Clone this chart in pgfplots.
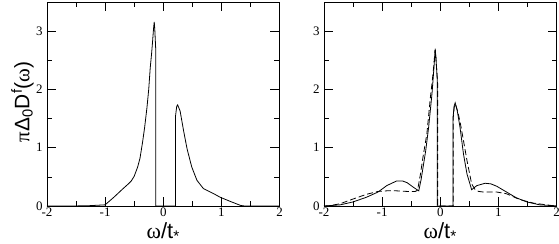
\documentclass[border=0pt]{standalone}
\usepackage{fontspec}
\setmainfont{Liberation Serif}
\newfontfamily\lsans{Liberation Sans}
\usepackage{pgfplots}
\pgfplotsset{compat=1.18}
\begin{document}
\begin{tikzpicture}
\pgfplotsset{
  every axis/.append style={
    scale only axis,
    width=232.5bp, height=204bp,
    xmin=-2, xmax=2, ymin=0, ymax=3.5,
    xtick={-2,-1,0,1,2},
    xticklabels={\mbox{-2},\mbox{-1},\mbox{0},\mbox{1},\mbox{2}},
    ytick={0,1,2,3},
    yticklabels={\mbox{0},\mbox{1},\mbox{2},\mbox{3}},
    minor xtick={-1.5,-0.5,0.5,1.5},
    minor ytick={0.5,1.5,2.5},
    tick align=inside,
    major tick length=9bp,
    minor tick length=5bp,
    every tick/.style={black, line width=0.6pt},
    axis line style={black, line width=0.8pt},
    tick label style={font=\fontsize{13}{15}\selectfont},
    yticklabel style={xshift=-1bp},
    xticklabel style={anchor=base, yshift=-10.5bp},
    xlabel style={at={(axis description cs:0.5,-0.157)}, anchor=base},
    xlabel={\fontsize{22}{24}\selectfont ω{\lsans /t\textsubscript{*}}},
    clip=false,
  }
}
\begin{axis}[
  at={(0,0)}, anchor=south west,
  ylabel style={at={(axis description cs:-0.0754,0.51)}, anchor=base},
  ylabel={\fontsize{21}{24}\selectfont π{\lsans Δ\textsubscript{0}D\textsuperscript{f}(}ω{\lsans )}},
]
\addplot[black, line width=0.8pt] coordinates {
(-2,0) (-1.6,0) (-1.3,0.004) (-1.0,0.02) (-0.85,0.15) (-0.7,0.29) (-0.6,0.38)
(-0.55,0.43) (-0.5,0.51) (-0.44,0.67) (-0.4,0.82) (-0.355,1.1) (-0.32,1.35)
(-0.28,1.69) (-0.25,2.0) (-0.224,2.37) (-0.2,2.62) (-0.183,2.83) (-0.168,3.03)
(-0.155,3.16) (-0.145,3.02) (-0.13,2.7) (-0.13,0)
(0.212,0) (0.212,1.55) (0.232,1.71) (0.248,1.735) (0.29,1.63) (0.35,1.29)
(0.41,0.98) (0.49,0.67) (0.58,0.44) (0.69,0.30) (0.87,0.21) (0.98,0.15)
(1.15,0.08) (1.33,0.01) (1.4,0) (2,0)
};
\end{axis}
\begin{axis}[
  at={(277bp,0)}, anchor=south west,
]
\addplot[black, line width=0.8pt] coordinates {
(-2,0) (-1.95,0.003) (-1.72,0.02) (-1.5,0.07) (-1.27,0.15) (-1.07,0.24)
(-0.92,0.35) (-0.75,0.43) (-0.65,0.43) (-0.57,0.40) (-0.46,0.32) (-0.37,0.26)
(-0.33,0.45) (-0.29,0.70) (-0.25,0.95) (-0.2,1.35) (-0.14,1.95) (-0.11,2.35)
(-0.086,2.70) (-0.072,2.5) (-0.05,2.15) (-0.05,0)
(0.218,0) (0.218,1.5) (0.24,1.72) (0.257,1.77) (0.29,1.65) (0.34,1.35)
(0.40,0.89) (0.46,0.55) (0.54,0.28) (0.63,0.35) (0.77,0.39) (0.87,0.38)
(0.97,0.34) (1.14,0.24) (1.31,0.14) (1.49,0.07) (1.71,0.02) (2.0,0.003)
};
\addplot[black, line width=0.8pt, dash pattern=on 6bp off 3bp] coordinates {
(-2,0) (-1.9,0.005) (-1.72,0.04) (-1.5,0.12) (-1.27,0.20) (-1.07,0.25)
(-0.92,0.26) (-0.75,0.26) (-0.57,0.25) (-0.43,0.25) (-0.39,0.27) (-0.34,0.55)
(-0.3,0.82) (-0.23,1.24) (-0.17,1.86) (-0.14,2.12) (-0.11,2.42) (-0.09,2.68)
(-0.075,2.55) (-0.045,2.1) (-0.045,0)
(0.222,0) (0.222,1.5) (0.24,1.7) (0.26,1.75) (0.30,1.62) (0.34,1.45)
(0.40,1.12) (0.46,0.78) (0.54,0.38) (0.60,0.28) (0.66,0.25) (0.74,0.24)
(0.97,0.24) (1.14,0.21) (1.37,0.11) (1.6,0.05) (1.9,0.01) (2,0.005)
};
\end{axis}
\pgfresetboundingbox
\useasboundingbox (-47bp,-38bp) rectangle (512bp,206bp);
\end{tikzpicture}
\end{document}
